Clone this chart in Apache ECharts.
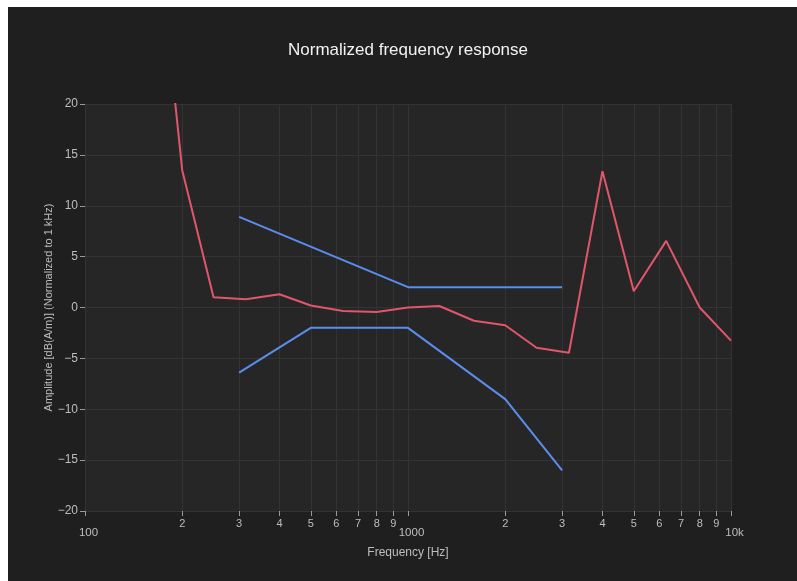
<!DOCTYPE html>
<html>
<head>
<meta charset="utf-8">
<script src="https://cdn.jsdelivr.net/npm/echarts@6/dist/echarts.min.js"></script>
<style>
    html, body { margin: 0; background: #ffffff; overflow: hidden; }
    #chart { position: absolute; left: 8px; top: 7px; width: 800px; height: 580px; }
</style>
</head>
<body>
<div id="chart"></div>
<script>
    // measured response, 1/3 octave bands
    var freqs = [160, 200, 250, 315, 400, 500, 630, 800, 1000, 1250, 1600, 2000, 2500, 3150, 4000, 5000, 6300, 8000, 10000];
    var response = [43, 13.5, 1.0, 0.8, 1.3, 0.2, -0.35, -0.45, 0, 0.15, -1.3, -1.75, -3.95, -4.45, 13.4, 1.6, 6.55, 0.0, -3.25];

    // tolerance mask
    var upperFreqs = [300, 1000, 3000];
    var upperLimit = [8.9, 2, 2];
    var lowerFreqs = [300, 500, 1000, 2000, 3000];
    var lowerLimit = [-6.4, -2, -2, -9, -16];

    var majorTicks = [100, 1000, 10000];
    var minorTicks = [200, 300, 400, 500, 600, 700, 800, 900, 2000, 3000, 4000, 5000, 6000, 7000, 8000, 9000];

    function pairs(xs, ys) {
        return xs.map(function (x, i) { return [x, ys[i]]; });
    }

    var allTicks = majorTicks.concat(minorTicks).sort(function (a, b) { return a - b; });
    var labelColor = '#bdbdbd';
    var font = 'Arial, "Liberation Sans", sans-serif';

    var chart = echarts.init(document.getElementById('chart'));
    chart.setOption({
        animation: false,
        backgroundColor: '#1f1f1f',
        textStyle: { fontFamily: font },
        title: {
            text: 'Normalized frequency response',
            left: 'center',
            top: 35,
            padding: 0,
            textStyle: { color: '#f2f2f2', fontSize: 17, fontWeight: 'normal', fontFamily: font }
        },
        grid: {
            left: 77, right: 77, top: 97, bottom: 76,
            show: true,
            backgroundColor: '#262626',
            borderWidth: 0
        },
        xAxis: {
            type: 'log',
            logBase: 10,
            min: 100,
            max: 10000,
            name: 'Frequency [Hz]',
            nameLocation: 'middle',
            nameGap: 36,
            nameMoveOverlap: false,
            nameTextStyle: { color: labelColor, fontSize: 12 },
            axisLine: { show: false, onZero: false },
            axisTick: {
                show: true,
                length: 5,
                customValues: allTicks,
                lineStyle: { color: '#9a9a9a' }
            },
            axisLabel: {
                margin: 7,
                customValues: allTicks,
                color: labelColor,
                formatter: function (v) {
                    var k = Math.round(Math.log10(v));
                    if (Math.abs(Math.pow(10, k) - v) < 1e-6) {
                        return '{ma|' + (v >= 10000 ? '10k' : v) + '}';
                    }
                    return '{mi|' + Math.round(v / Math.pow(10, Math.floor(Math.log10(v) + 1e-9))) + '}';
                },
                rich: {
                    mi: { fontSize: 11, color: labelColor },
                    ma: { fontSize: 11.5, color: labelColor, padding: [9, 0, 0, 7] }
                }
            },
            splitLine: { show: true, lineStyle: { color: '#333333', width: 1 } }
        },
        yAxis: {
            type: 'value',
            min: -20,
            max: 20,
            interval: 5,
            name: 'Amplitude [dB(A/m)] (Normalized to 1 kHz)',
            nameLocation: 'middle',
            nameGap: 31,
            nameMoveOverlap: false,
            nameTextStyle: { color: labelColor, fontSize: 11 },
            axisLine: { show: false },
            axisTick: { show: true, length: 5, lineStyle: { color: '#9a9a9a' } },
            axisLabel: {
                margin: 7,
                color: labelColor,
                fontSize: 12,
                formatter: function (v) { return String(v).replace('-', '\u2212'); }
            },
            splitLine: { show: true, lineStyle: { color: '#333333', width: 1 } }
        },
        series: [
            {
                name: 'Response',
                type: 'line',
                data: pairs(freqs, response),
                symbol: 'none',
                clip: true,
                lineStyle: { color: '#e0566b', width: 2 }
            },
            {
                name: 'Upper limit',
                type: 'line',
                data: pairs(upperFreqs, upperLimit),
                symbol: 'none',
                lineStyle: { color: '#5b8def', width: 2 }
            },
            {
                name: 'Lower limit',
                type: 'line',
                data: pairs(lowerFreqs, lowerLimit),
                symbol: 'none',
                lineStyle: { color: '#5b8def', width: 2 }
            }
        ]
    });
</script>
</body>
</html>
